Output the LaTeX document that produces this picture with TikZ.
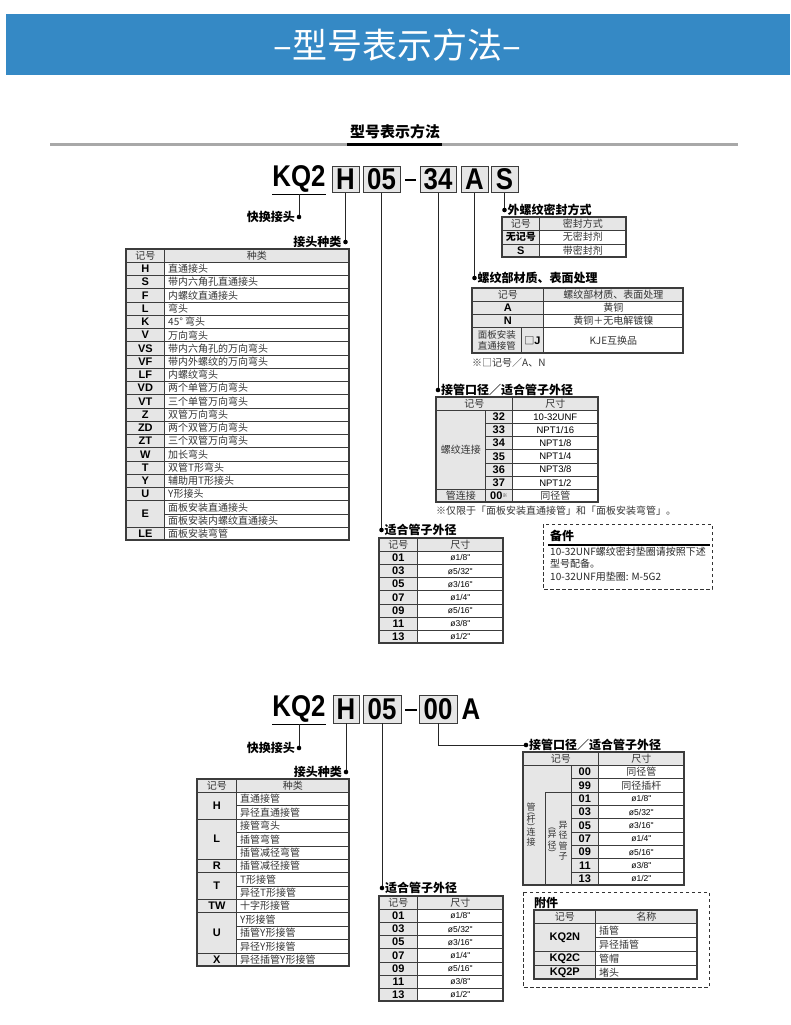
\documentclass[tikz,border=0pt]{standalone}
\usepackage{fontspec}
\setmainfont{Noto Sans CJK SC}
\newfontfamily\latinfont{Liberation Sans}
\newfontfamily\bigfont[FakeStretch=0.86]{Liberation Sans}
\usetikzlibrary{positioning}
\definecolor{bandblue}{HTML}{3589C5}
\definecolor{cellgray}{HTML}{E6E6E6}
\definecolor{rulegray}{HTML}{A8A8A8}
\definecolor{gridline}{HTML}{3C3C3C}
\definecolor{inktext}{HTML}{333333}
\tikzset{
  cell/.style={draw=gridline, line width=0.7pt, anchor=north west, inner sep=0pt, text=inktext, font=\fontsize{10}{10}\selectfont},
  graycell/.style={cell, fill=cellgray},
  codecell/.style={graycell, text=black, font=\latinfont\bfseries\fontsize{11}{11}\selectfont},
  sizecell/.style={cell, text=black, font=\latinfont\fontsize{8.5}{9}\selectfont},
  nametext/.style={inner sep=0pt, text=inktext, font=\fontsize{10}{10}\selectfont},
  vchar/.style={inner sep=0pt, text=inktext, font=\fontsize{9}{9}\selectfont},
  vparen/.style={inner sep=0pt, rotate=-90, text=inktext, font=\latinfont\fontsize{8}{8}\selectfont},
  tag/.style={inner sep=0pt, font=\bfseries\fontsize{12}{12}\selectfont},
  codebox/.style={draw=gridline, line width=0.9pt, fill=cellgray, inner sep=0pt, minimum height=26pt, font=\bigfont\bfseries\fontsize{30}{30}\selectfont},
  bigcode/.style={inner sep=0pt, font=\bigfont\bfseries\fontsize{30}{30}\selectfont},
  wire/.style={line width=1pt, draw=black!85},
  outerframe/.style={draw=gridline, line width=1.1pt},
  notebox/.style={draw=black!80, line width=0.9pt, dash pattern=on 3.5pt off 2.5pt},
}
% table cell: style, x0, y0, x1, y1, name, text
\newcommand\tc[7]{\node[#1,minimum width={#4pt-#2pt},minimum height={#5pt-#3pt}] (#6) at (#2,#3) {#7};}
% same, text set to the left
\newcommand\nc[7]{\tc{#1}{#2}{#3}{#4}{#5}{#6}{}\node[nametext, right=4pt of #6.west] (#6t) {#7};}
\newcommand\dotat[1]{\fill[black] (#1) circle (2.3pt);}

\begin{document}
\begin{tikzpicture}[x=1pt,y=-1pt]
\useasboundingbox (0,0) rectangle (790,1025);

% banner
\fill[bandblue] (6,14) rectangle (790,75);
\node[text=white, font=\fontsize{35}{35}\selectfont] (title) at (397,45) {–型号表示方法–};
\node[font=\bfseries\fontsize{15}{15}\selectfont] (sub) at (395,132) {型号表示方法};
\draw[rulegray, line width=3.3pt] (50,144.5) -- (738,144.5);
\draw[black, line width=3.3pt] (347,144.5) -- (442,144.5);

% first code
\node[bigcode] (kq) at (299,179) {KQ2};
\draw[line width=1.2pt] ([yshift=-1.5pt]kq.south west) -- ([yshift=-1.5pt]kq.south east);
\node[codebox, minimum width=27pt] (cH) at (345.5,179.5) {H};
\node[codebox, minimum width=37pt] (c05) at (381.5,179.5) {05};
\draw[line width=2pt] (405,180) -- (416,180);
\node[codebox, minimum width=36pt] (c34) at (438,179.5) {34};
\node[codebox, minimum width=27pt] (cA) at (474.5,179.5) {A};
\node[codebox, minimum width=27pt] (cS) at (504.5,179.5) {S};

\coordinate (dK) at (299,217);
\coordinate (dH) at (345.5,242);
\coordinate (dS) at (504.5,210);
\coordinate (dA) at (474.5,278);
\coordinate (d34) at (438,390);
\coordinate (d05) at (381.5,530);
\draw[wire] ([yshift=-1.5pt]kq.south) -- (dK);
\draw[wire] (cH.south) -- (dH);
\draw[wire] (cS.south) -- (dS);
\draw[wire] (cA.south) -- (dA);
\draw[wire] (c34.south) -- (d34);
\draw[wire] (c05.south) -- (d05);
\foreach \d in {dK,dH,dS,dA,d34,d05} {\dotat{\d}}
\node[tag, left=4pt of dK] (tK) {快换接头};
\node[tag, left=4pt of dH] (tH) {接头种类};
\node[tag, right=3pt of dS] (tS) {外螺纹密封方式};
\node[tag, right=3pt of dA] (tA) {螺纹部材质、表面处理};
\node[tag, right=3pt of d34] (t34) {接管口径／适合管子外径};
\node[tag, right=3pt of d05] (t05) {适合管子外径};

% kinds
\tc{graycell}{126}{249}{164}{262}{ka}{记号}
\tc{graycell}{164}{249}{349}{262}{kb}{种类}
\foreach \c/\t [count=\i from 0] in {H/直通接头, S/带内六角孔直通接头, F/内螺纹直通接头, L/弯头, K/45° 弯头, V/万向弯头, VS/带内六角孔的万向弯头, VF/带内外螺纹的万向弯头, LF/内螺纹弯头, VD/两个单管万向弯头, VT/三个单管万向弯头, Z/双管万向弯头, ZD/两个双管万向弯头, ZT/三个双管万向弯头, W/加长弯头, T/双管T形弯头, Y/辅助用T形接头, U/Y形接头}{
  \pgfmathsetmacro\ya{262+13.24*\i}
  \pgfmathsetmacro\yb{\ya+13.24}
  \tc{codecell}{126}{\ya}{164}{\yb}{kc\i}{\c}
  \nc{cell}{164}{\ya}{349}{\yb}{kd\i}{\t}
}
\tc{codecell}{126}{500.32}{164}{526.8}{kE}{E}
\nc{cell}{164}{500.32}{349}{513.56}{kE1}{面板安装直通接头}
\nc{cell}{164}{513.56}{349}{526.8}{kE2}{面板安装内螺纹直通接头}
\tc{codecell}{126}{526.8}{164}{540.04}{kLE}{LE}
\nc{cell}{164}{526.8}{349}{540.04}{kLEn}{面板安装弯管}
\draw[outerframe] (126,249) rectangle (349,540.04);

% seal
\tc{graycell}{502}{217}{539}{230}{sa}{记号}
\tc{graycell}{539}{217}{626}{230}{sb}{密封方式}
\tc{graycell, text=black, font=\bfseries\fontsize{10}{10}\selectfont}{502}{230}{539}{243.5}{sc}{无记号}
\tc{cell}{539}{230}{626}{243.5}{sd}{无密封剂}
\tc{codecell}{502}{243.5}{539}{257}{se}{S}
\tc{cell}{539}{243.5}{626}{257}{sf}{带密封剂}
\draw[outerframe] (502,217) rectangle (626,257);

% material
\tc{graycell}{472}{288}{543}{301}{ma}{记号}
\tc{graycell}{543}{288}{683}{301}{mb}{螺纹部材质、表面处理}
\tc{codecell}{472}{301}{543}{314}{mc}{A}
\tc{cell}{543}{301}{683}{314}{md}{黄铜}
\tc{codecell}{472}{314}{543}{327}{me}{N}
\tc{cell}{543}{314}{683}{327}{mf}{黄铜＋无电解镀镍}
\tc{graycell, align=center, font=\fontsize{9.5}{11}\selectfont}{472}{327}{521}{353}{mg}{面板安装\\直通接管}
\tc{codecell}{521}{327}{543}{353}{mh}{{\normalfont\fontsize{10}{10}\selectfont □}J}
\tc{cell}{543}{327}{683}{353}{mi}{KJE互换品}
\draw[outerframe] (472,288) rectangle (683,353);
\node[nametext, anchor=west] (mnote) at (472,363) {※□记号／A、N};

% port
\tc{graycell}{436}{397}{512}{410}{pa}{记号}
\tc{graycell}{512}{397}{598}{410}{pb}{尺寸}
\tc{graycell}{436}{410}{485}{488.86}{pc}{螺纹连接}
\foreach \c/\s [count=\i from 0] in {32/10-32UNF, 33/{NPT1/16}, 34/{NPT1/8}, 35/{NPT1/4}, 36/{NPT3/8}, 37/{NPT1/2}}{
  \pgfmathsetmacro\ya{410+13.143*\i}
  \pgfmathsetmacro\yb{\ya+13.143}
  \tc{codecell}{485}{\ya}{512}{\yb}{pd\i}{\c}
  \tc{sizecell, font=\latinfont\fontsize{9.5}{10}\selectfont}{512}{\ya}{598}{\yb}{pe\i}{\s}
}
\tc{graycell}{436}{488.86}{485}{502}{pf}{管连接}
\tc{codecell}{485}{488.86}{512}{502}{pg}{00{\normalfont\fontsize{5}{5}\selectfont\raisebox{2pt}{※}}}
\tc{cell}{512}{488.86}{598}{502}{ph}{同径管}
\draw[outerframe] (436,397) rectangle (598,502);
\node[nametext, anchor=west] (pnote) at (436,511) {※仅限于「面板安装直通接管」和「面板安装弯管」。};

% note
\draw[notebox] (543,524) rectangle (712,589);
\node[tag, anchor=west] (nbt) at (550,536) {备件};
\draw[line width=1.2pt] (548,545) -- (710,545);
\node[nametext, text=black!85, anchor=west] (nb1) at (550,551.5) {10-32UNF螺纹密封垫圈请按照下述};
\node[nametext, text=black!85, anchor=west] (nb2) at (550,564) {型号配备。};
\node[nametext, text=black!85, anchor=west] (nb3) at (550,576.5) {10-32UNF用垫圈: M-5G2};

% sizes (both parts)
\foreach \tp/\nm in {538/z, 896/w}{
  \tc{graycell}{379}{\tp}{417}{\tp+13}{\nm a}{记号}
  \tc{graycell}{417}{\tp}{503}{\tp+13}{\nm b}{尺寸}
  \foreach \c/\s [count=\i from 0] in {01/{ø1/8"}, 03/{ø5/32"}, 05/{ø3/16"}, 07/{ø1/4"}, 09/{ø5/16"}, 11/{ø3/8"}, 13/{ø1/2"}}{
    \pgfmathsetmacro\ya{\tp+13+13.14*\i}
    \pgfmathsetmacro\yb{\ya+13.14}
    \tc{codecell}{379}{\ya}{417}{\yb}{\nm c\i}{\c}
    \tc{sizecell}{417}{\ya}{503}{\yb}{\nm d\i}{\s}
  }
  \draw[outerframe] (379,\tp) rectangle (503,\tp+105);
}

% second code
\node[bigcode] (kqb) at (299,709) {KQ2};
\draw[line width=1.2pt] ([yshift=-1.5pt]kqb.south west) -- ([yshift=-1.5pt]kqb.south east);
\node[codebox, minimum width=26pt, minimum height=28pt] (eH) at (346,709) {H};
\node[codebox, minimum width=38pt, minimum height=28pt] (e05) at (382,709) {05};
\draw[line width=2pt] (405,710) -- (417,710);
\node[codebox, minimum width=38pt, minimum height=28pt] (e00) at (438,709) {00};
\node[bigcode] (eA) at (471,709) {A};

\coordinate (fK) at (299,748);
\coordinate (fH) at (346,772);
\coordinate (f05) at (382,888);
\coordinate (f00) at (526,745);
\draw[wire] ([yshift=-1.5pt]kqb.south) -- (fK);
\draw[wire] (eH.south) -- (fH);
\draw[wire] (e05.south) -- (f05);
\draw[wire] (e00.south) |- (f00);
\foreach \d in {fK,fH,f05,f00} {\dotat{\d}}
\node[tag, left=4pt of fK] (uK) {快换接头};
\node[tag, left=4pt of fH] (uH) {接头种类};
\node[tag, right=3pt of f05] (u05) {适合管子外径};
\node[tag, right=3pt of f00] (u00) {接管口径／适合管子外径};

% kinds, second part
\tc{graycell}{197}{779}{236}{792}{ga}{记号}
\tc{graycell}{236}{779}{349}{792}{gb}{种类}
\foreach \t [count=\i from 0] in {直通接管, 异径直通接管, 接管弯头, 插管弯管, 插管减径弯管, 插管减径接管, T形接管, 异径T形接管, 十字形接管, Y形接管, 插管Y形接管, 异径Y形接管, 异径插管Y形接管}{
  \pgfmathsetmacro\ya{792+13.38*\i}
  \pgfmathsetmacro\yb{\ya+13.38}
  \nc{cell}{236}{\ya}{349}{\yb}{gd\i}{\t}
}
\foreach \c/\s/\n in {H/0/2, L/2/3, R/5/1, T/6/2, TW/8/1, U/9/3, X/12/1}{
  \pgfmathsetmacro\ya{792+13.38*\s}
  \pgfmathsetmacro\yb{\ya+13.38*\n}
  \tc{codecell}{197}{\ya}{236}{\yb}{gc\c}{\c}
}
\draw[outerframe] (197,779) rectangle (349,965.94);

% port, second part
\tc{graycell}{523}{752}{598}{765}{qa}{记号}
\tc{graycell}{598}{752}{684}{765}{qb}{尺寸}
\tc{graycell}{523}{765}{571}{885}{qc}{}
\tc{graycell}{545}{791.67}{571}{885}{qd}{}
\tc{codecell}{571}{765}{598}{778.33}{qe0}{00}
\tc{cell}{598}{765}{684}{778.33}{qf0}{同径管}
\tc{codecell}{571}{778.33}{598}{791.67}{qe1}{99}
\tc{cell}{598}{778.33}{684}{791.67}{qf1}{同径插杆}
\foreach \c/\s [count=\i from 2] in {01/{ø1/8"}, 03/{ø5/32"}, 05/{ø3/16"}, 07/{ø1/4"}, 09/{ø5/16"}, 11/{ø3/8"}, 13/{ø1/2"}}{
  \pgfmathsetmacro\ya{765+13.333*\i}
  \pgfmathsetmacro\yb{\ya+13.333}
  \tc{codecell}{571}{\ya}{598}{\yb}{qe\i}{\c}
  \tc{sizecell}{598}{\ya}{684}{\yb}{qf\i}{\s}
}
\draw[outerframe] (523,752) rectangle (684,885);
% upright columns of text
\foreach \ch/\yy [count=\i] in {管/807, 杆/819.5, 连/832, 接/842.5}{\node[vchar] (qv\i) at (531,\yy) {\ch};}
\node[vparen] (qp1) at (531,813.7) {(};
\node[vparen] (qp2) at (531,825.3) {)};
\foreach \ch/\yy [count=\i] in {异/834.5, 径/845}{\node[vchar] (qw\i) at (552,\yy) {\ch};}
\node[vparen] (qp3) at (552,828.5) {(};
\node[vparen] (qp4) at (552,851) {)};
\foreach \ch/\yy [count=\i] in {异/825, 径/835.5, 管/846, 子/856.5}{\node[vchar] (qx\i) at (563,\yy) {\ch};}

% accessories
\draw[notebox] (523,892) rectangle (709,987);
\node[tag, anchor=west] (acc) at (534,903) {附件};
\tc{graycell}{534}{910}{595}{923}{ha}{记号}
\tc{graycell}{595}{910}{697}{923}{hb}{名称}
\tc{codecell}{534}{923}{595}{951}{hc}{KQ2N}
\nc{cell}{595}{923}{697}{937}{hd}{插管}
\nc{cell}{595}{937}{697}{951}{he}{异径插管}
\tc{codecell}{534}{951}{595}{965}{hf}{KQ2C}
\nc{cell}{595}{951}{697}{965}{hg}{管帽}
\tc{codecell}{534}{965}{595}{979}{hh}{KQ2P}
\nc{cell}{595}{965}{697}{979}{hi}{堵头}
\draw[outerframe] (534,910) rectangle (697,979);
\end{tikzpicture}
\end{document}
